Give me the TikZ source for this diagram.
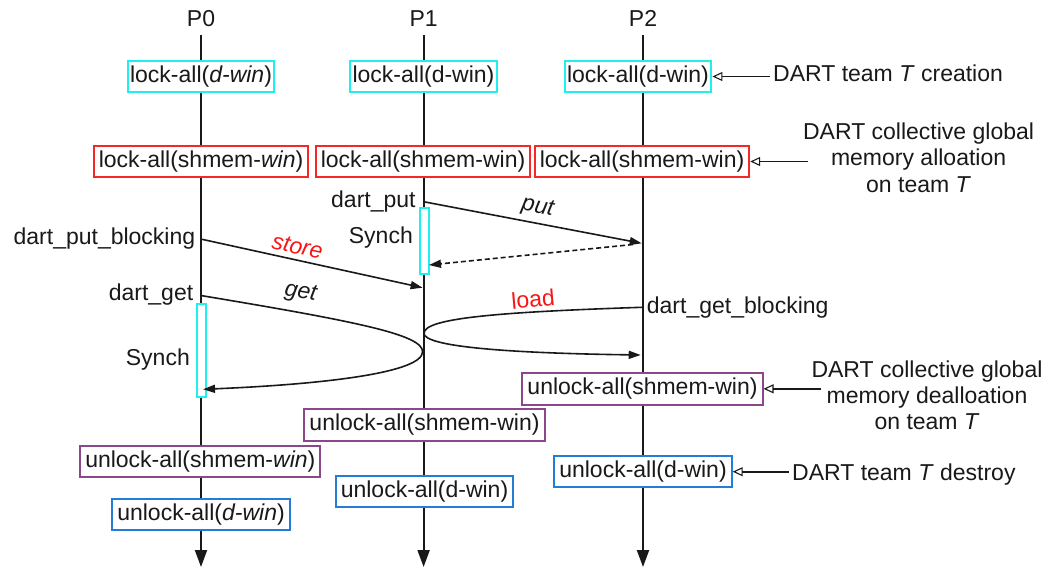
\documentclass[tikz,border=0pt]{standalone}
\usepackage{fontspec}
\setmainfont{Liberation Sans}
\usetikzlibrary{arrows.meta}
\definecolor{cyanb}{RGB}{30,240,240}
\definecolor{redb}{RGB}{245,40,40}
\definecolor{purpb}{RGB}{140,70,140}
\definecolor{blueb}{RGB}{35,125,215}
\definecolor{redt}{RGB}{250,20,20}
\definecolor{ink}{RGB}{25,25,25}
\begin{document}
\begin{tikzpicture}[x=1pt,y=-1pt,
  every node/.style={font=\fontsize{23pt}{26.3pt}\selectfont,text=ink},
  txt/.style={inner sep=0pt,text height=16.5pt,text depth=5pt},
  box/.style={txt,draw,fill=white,line width=2pt,inner xsep=5pt,inner ysep=5pt},
  cbox/.style={box,draw=cyanb,inner xsep=2.5pt},
  rbox/.style={box,draw=redb},
  pbox/.style={box,draw=purpb},
  bbox/.style={box,draw=blueb},
  syn/.style={draw=cyanb,fill=white,line width=2pt,inner sep=0pt},
  life/.style={line width=2pt,draw=ink,-{Triangle[length=17pt,width=12pt]}},
  msg/.style={line width=1.6pt,draw=ink,-{Triangle[length=12pt,width=8pt]}},
  lbl/.style={inner sep=0pt},
  ann/.style={line width=1.6pt,draw=ink,-{Triangle[open,length=10pt,width=9pt,line width=1.1pt]}},
  note/.style={inner sep=0pt,align=center}
]
\useasboundingbox (0,0) rectangle (1049,568);

% process labels and lifelines
\node[txt] (p0) at (201,20.25) {P0};
\node[txt] (p1) at (423.6,20.25) {P1};
\node[txt] (p2) at (643,20.25) {P2};
\coordinate (e0) at (201,567);
\coordinate (e1) at (423.6,567);
\coordinate (e2) at (643,567);
\draw[life,shorten <=4pt] (p0.south) -- (e0);
\draw[life,shorten <=4pt] (p1.south) -- (e1);
\draw[life,shorten <=4pt] (p2.south) -- (e2);

% lock boxes
\node[cbox] (c0) at (201,76.5) {lock-all(\textit{d-win})};
\node[cbox] (c1) at (423.5,76.5) {lock-all(d-win)};
\node[cbox] (c2) at (638,76.5) {lock-all(d-win)};
\node[rbox] (r0) at (201,161.5) {lock-all(shmem-\textit{win})};
\node[rbox] (r1) at (423,161.5) {lock-all(shmem-win)};
\node[rbox] (r2) at (642,161.5) {lock-all(shmem-win)};

% unlock boxes
\node[pbox] (m2) at (642.5,388.8) {unlock-all(shmem-win)};
\node[pbox] (m1) at (424.5,425.2) {unlock-all(shmem-win)};
\node[pbox] (m0) at (200.3,461.7) {unlock-all(shmem-\textit{win})};
\node[bbox] (b2) at (643,471.7) {unlock-all(d-win)};
\node[bbox] (b1) at (424.5,491.5) {unlock-all(d-win)};
\node[bbox] (b0) at (201,514.7) {unlock-all(\textit{d-win})};

% synch boxes
\node[syn,minimum width=8.5pt,minimum height=66pt] (s1) at (424.4,241.2) {};
\node[syn,minimum width=8.5pt,minimum height=93pt] (s0) at (201.3,350) {};

% side texts
\node[txt,anchor=east] (dput) at (415.8,201.6) {dart\_put};
\node[txt,anchor=east] (syn1) at (413,237.6) {Synch};
\node[txt,anchor=east] (dpb) at (195.4,238.3) {dart\_put\_blocking};
\node[txt,anchor=east] (dget) at (193.4,294.3) {dart\_get};
\node[txt,anchor=east] (syn0) at (190,360) {Synch};
\node[txt,anchor=west] (dgb) at (646.7,307.6) {dart\_get\_blocking};

% message end points
\coordinate (putS) at (423.6,201.7);
\coordinate (putE) at (641.7,243.3);
\coordinate (ackS) at (633,244.5);
\coordinate (ackE) at (429,265);
\coordinate (stS) at (202,239.3);
\coordinate (stE) at (422.6,287.7);
\coordinate (getS) at (202,295.7);
\coordinate (getM) at (422.6,351.7);
\coordinate (getE) at (203,389.3);
\coordinate (ldS) at (642,307.3);
\coordinate (ldM) at (424,333.3);
\coordinate (ldE) at (640.7,355);

\draw[msg] (putS) -- (putE);
\draw[msg,dash pattern=on 5pt off 3pt] (ackS) -- (ackE);
\draw[msg] (stS) -- (stE);
\draw[msg] (getS) .. controls (360,322) and (422.6,335) .. (getM)
               .. controls (422.6,372) and (330,384) .. (getE);
\draw[msg] (ldS) .. controls (500,312) and (424,318) .. (ldM)
              .. controls (424,346) and (500,353) .. (ldE);

% message labels
\node[lbl,rotate=-10.9] (lput) at (538,208) {\textit{put}};
\node[lbl,rotate=-12.4,text=redt] (lstore) at (297.5,246.5) {\textit{store}};
\node[lbl,rotate=-10] (lget) at (301,293) {\textit{get}};
\node[lbl,rotate=5,text=redt] (lload) at (533,299.3) {load};

% annotations
\node[txt,anchor=west] (cr) at (773,75.25) {DART team \textit{T} creation};
\node[note,anchor=north] (al) at (918.6,122.8) {DART collective global\\memory alloation\\on team \textit{T}};
\node[note,anchor=north] (dl) at (927,360.2) {DART collective global\\memory dealloation\\on team \textit{T}};
\node[txt,anchor=west] (ds) at (792,474.3) {DART team \textit{T} destroy};

\draw[ann] ([xshift=-3pt]cr.west |- c2.east) -- (c2.east);
\draw[ann] ([xshift=5pt]al.west |- r2.east) -- (r2.east);
\draw[ann] ([xshift=10pt]dl.west |- m2.east) -- (m2.east);
\draw[ann] ([xshift=-3pt]ds.west |- b2.east) -- (b2.east);
\end{tikzpicture}
\end{document}
